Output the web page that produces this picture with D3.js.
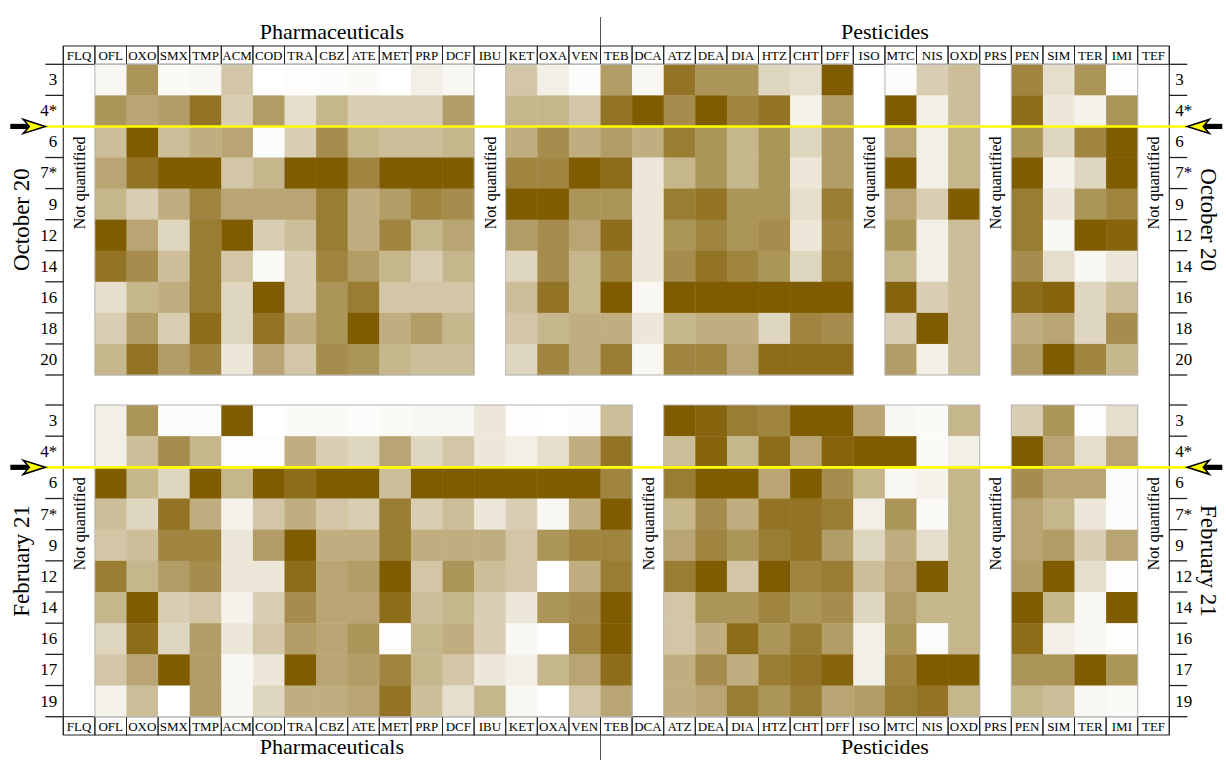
<!DOCTYPE html>
<html>
<head>
<meta charset="utf-8">
<script src="https://cdnjs.cloudflare.com/ajax/libs/d3/7.8.5/d3.min.js"></script>
<style>
body { margin: 0; background: #fff; }
text { font-family: "Liberation Serif", "DejaVu Serif", serif; fill: #000; }
</style>
</head>
<body>
<svg id="chart" width="1226" height="760"></svg>
<script>
// compounds in column order
var compounds = ['FLQ', 'OFL', 'OXO', 'SMX', 'TMP', 'ACM', 'COD', 'TRA', 'CBZ', 'ATE', 'MET', 'PRP', 'DCF',
    'IBU', 'KET', 'OXA', 'VEN', 'TEB', 'DCA', 'ATZ', 'DEA', 'DIA', 'HTZ', 'CHT', 'DFF', 'ISO', 'MTC', 'NIS',
    'OXD', 'PRS', 'PEN', 'SIM', 'TER', 'IMI', 'TEF'];
var groupNames = ['Pharmaceuticals', 'Pesticides'];
var groupFirst = ['FLQ', 'TEB'];
var groupLast = ['VEN', 'TEF'];

var campaigns = ['October 20', 'February 21'];
var octDays = ['3', '4*', '6', '7*', '9', '12', '14', '16', '18', '20'];
var febDays = ['3', '4*', '6', '7*', '9', '12', '14', '16', '17', '19'];
// rain event falls between these two samples
var eventAfter = ['4*', '4*'];

// relative level, 0 = white .. 10 = darkest, null = not quantified
var octValues = [
    [null, 0.5, 6.5, 0.3, 0.5, 3.5, 0, 0.1, 0.2, 0.3, 0, 1, 0.5, null, 3.5, 1, 0.2, 6, 0.5, 8.5, 6.5, 6.5, 2.5, 2, 10, null, 0.2, 3, 4, null, 7.5, 2, 6.5, 0.1, null],
    [null, 6.5, 5.5, 6, 8.5, 3, 6, 2, 4.5, 3, 3, 3, 6, null, 4.5, 4.5, 3.5, 8.5, 10, 7, 10, 7.5, 8.5, 0.8, 6, null, 10, 1, 4, null, 9, 1.5, 0.8, 6.5, null],
    [null, 4, 10, 4, 5, 5.5, 0.2, 3, 7, 4.5, 4, 4, 4.5, null, 5, 7, 5, 6, 5, 8, 6.5, 4.5, 6.5, 2.5, 6, null, 5.5, 1, 4.5, null, 6.5, 2.5, 7.5, 10, null],
    [null, 5.5, 8.5, 10, 10, 3.5, 4.5, 10, 10, 7.5, 10, 10, 10, null, 7.5, 7.5, 10, 9, 1.5, 4.5, 6.5, 4.5, 6.5, 1.5, 6, null, 10, 1, 4.5, null, 10, 0.8, 2.5, 10, null],
    [null, 4.5, 3, 5, 7.5, 5.5, 5.5, 5.5, 8, 5, 6, 7.5, 7, null, 10, 10, 6.5, 6.5, 1.5, 8, 8.5, 6.5, 6.5, 2, 8, null, 5.5, 3, 10, null, 8, 1.5, 6.5, 7.5, null],
    [null, 10, 5.5, 2.5, 8, 10, 3, 4, 8, 5, 7.5, 4.5, 5.5, null, 6, 7, 5.5, 9, 1.5, 6.5, 7.5, 6.5, 7, 1.5, 7.5, null, 6.5, 1, 4, null, 8, 0.5, 10, 9.5, null],
    [null, 8.5, 7, 4, 8, 3.5, 0.3, 3, 7.5, 6, 4.5, 3, 4.5, null, 2.5, 7, 4.5, 7.5, 1.5, 7, 8.5, 7.5, 6.5, 2.5, 8, null, 4.5, 1, 4, null, 7, 2, 0.5, 1.5, null],
    [null, 2, 4.5, 5, 8, 2.5, 10, 3, 6.5, 8, 3.5, 3.5, 3.5, null, 4, 8.5, 4.5, 10, 0.5, 10, 10, 10, 10, 10, 10, null, 9.5, 3, 4, null, 9, 9.5, 2.5, 4, null],
    [null, 3, 6, 3, 9, 2.5, 8.5, 5, 6.5, 10, 5, 6, 4.5, null, 3.5, 4.5, 5, 5, 1.5, 4.5, 5, 5, 2.5, 7.5, 7, null, 3, 10, 4, null, 5, 5.5, 2.5, 7, null],
    [null, 4.5, 8.5, 6, 7.5, 1.5, 5.5, 3.5, 7, 6.5, 4.5, 4, 4, null, 2.5, 7.5, 5, 8, 0.5, 7.5, 7.5, 5.5, 9, 9, 9, null, 6, 1, 4, null, 6, 10, 7.5, 4.5, null]
];
var febValues = [
    [null, 1, 6.5, 0.2, 0.2, 10, 0, 0.3, 0.3, 0.2, 0.3, 0.5, 0.5, 1.5, 0.1, 0, 0.2, 4, null, 10, 9.5, 8, 7.5, 10, 10, 5.5, 0.5, 0.3, 4.5, null, 3, 6.5, 0.1, 2, null],
    [null, 1, 4, 7, 4.5, 0.1, 0.1, 5, 3, 2.5, 5.5, 2.5, 3.5, 1.5, 1, 2, 5, 8.5, null, 4, 9.5, 4.5, 9, 5.5, 9.5, 10, 10, 0.3, 1, null, 10, 5.5, 2, 5.5, null],
    [null, 10, 4.5, 2.5, 10, 4.5, 10, 9, 10, 10, 4, 10, 10, 10, 10, 10, 10, 7.5, null, 8, 10, 10, 5.5, 10, 7, 4.5, 0.5, 0.8, 4.5, null, 7, 5.5, 5.5, 0.2, null],
    [null, 4, 2.5, 8.5, 5, 0.8, 3.5, 5, 3.5, 3, 8, 3, 4, 1.5, 3, 0.5, 5, 10, null, 4.5, 7, 5, 8.5, 8.5, 8, 1, 6.5, 0.3, 4.5, null, 5.5, 4.5, 1.5, 0.2, null],
    [null, 3.5, 4, 7.5, 7.5, 1.5, 6, 10, 5, 5, 8, 5, 5, 5, 3.5, 6.5, 7.5, 7.5, null, 5.5, 7.5, 6.5, 8, 8.5, 6, 2.5, 5, 2, 4.5, null, 5.5, 6, 3, 5.5, null],
    [null, 8, 4.5, 6, 7, 1.5, 1.5, 9, 5.5, 6, 10, 3.5, 6.5, 4, 3.5, 0, 5, 8, null, 8, 10, 3.5, 10, 7.5, 8, 4, 5.5, 10, 4.5, null, 6, 10, 2, 0.1, null],
    [null, 4.5, 10, 3, 3.5, 0.8, 3, 7, 5.5, 5.5, 9, 4, 4.5, 3, 1.5, 6.5, 7, 10, null, 3.5, 6.5, 6.5, 7.5, 6.5, 7, 2.5, 6, 4.5, 4.5, null, 10, 4.5, 0.5, 10, null],
    [null, 2.5, 9, 2.5, 6, 1.5, 3.5, 6, 5.5, 6.5, 0.1, 4.5, 5, 3, 0.5, 0, 7.5, 10, null, 3.5, 5, 9, 6.5, 8, 6, 1, 6.5, 0.2, 4.5, null, 9, 1, 0.5, 0.1, null],
    [null, 3.5, 5.5, 10, 6, 0.5, 1.5, 10, 5.5, 6, 7.5, 4.5, 3.5, 1.5, 1, 4.5, 5.5, 9, null, 5, 7, 5, 8, 8.5, 9.5, 1, 7.5, 10, 10, null, 6.5, 6.5, 10, 6.5, null],
    [null, 0.8, 4, 0, 6, 0.5, 2.5, 5, 5, 5.5, 8.5, 4, 2, 4.5, 0.5, 0, 3.5, 5.5, null, 5, 5.5, 8, 6.5, 8, 5.5, 6, 8, 8.5, 4.5, null, 4.5, 4, 0.5, 0.3, null]
];

var svg = d3.select('#chart');
var left = 63.3, right = 1169.3;

var x = d3.scaleBand().domain(compounds).range([left, right]);
var colour = d3.scaleLinear().domain([0, 10]).range(['#ffffff', '#805c00']);

// frame lines down both sides
svg.append('line').attr('x1', left).attr('x2', left).attr('y1', 46).attr('y2', 735)
    .attr('stroke', '#333').attr('stroke-width', 1.2);
svg.append('line').attr('x1', right).attr('x2', right).attr('y1', 46).attr('y2', 735)
    .attr('stroke', '#333').attr('stroke-width', 1.2);

// compound header boxes, top and bottom
function drawHeader(y0, y1) {
    var g = svg.append('g');
    g.selectAll('rect').data(compounds).enter().append('rect')
        .attr('x', function (d) { return x(d); })
        .attr('y', y0)
        .attr('width', x.bandwidth())
        .attr('height', y1 - y0)
        .attr('fill', 'none')
        .attr('stroke', '#222')
        .attr('stroke-width', 1);
    g.selectAll('text').data(compounds).enter().append('text')
        .attr('x', function (d) { return x(d) + x.bandwidth() / 2; })
        .attr('y', (y0 + y1) / 2)
        .attr('dy', '0.36em')
        .attr('text-anchor', 'middle')
        .style('font-size', '13px')
        .text(function (d) { return d; });
}
drawHeader(46, 64.3);
drawHeader(716.7, 735);

// group titles and the divider between them
function drawGroups(baseline, y0, y1) {
    groupNames.forEach(function (name, i) {
        var x0 = x(groupFirst[i]), x1 = x(groupLast[i]) + x.bandwidth();
        svg.append('text')
            .attr('x', (x0 + x1) / 2)
            .attr('y', baseline)
            .attr('text-anchor', 'middle')
            .style('font-size', '22px')
            .text(name);
    });
    svg.append('line')
        .attr('x1', x(groupFirst[1])).attr('x2', x(groupFirst[1]))
        .attr('y1', y0).attr('y2', y1)
        .attr('stroke', '#555').attr('stroke-width', 1);
}
drawGroups(39, 17, 46);
drawGroups(754, 735, 760);

function arrow(xTip, yy, dir) {
    // dir = 1 points right, -1 points left
    svg.append('rect')
        .attr('x', dir > 0 ? xTip - 35 : xTip + 17)
        .attr('y', yy - 2.6)
        .attr('width', 18)
        .attr('height', 5.2)
        .attr('fill', '#000');
    var pts = [[xTip, yy], [xTip - dir * 22, yy - 7], [xTip - dir * 16, yy], [xTip - dir * 22, yy + 7]];
    svg.append('polygon')
        .attr('points', pts.map(function (p) { return p.join(','); }).join(' '))
        .attr('fill', '#ffff00')
        .attr('stroke', '#000')
        .attr('stroke-width', 1.6)
        .attr('stroke-linejoin', 'miter');
}

function drawPanel(label, days, values, y0, y1, eventDay) {
    var y = d3.scaleBand().domain(days).range([y0, y1]);
    var g = svg.append('g');

    // cells
    values.forEach(function (row, i) {
        row.forEach(function (v, j) {
            if (v === null) return;
            g.append('rect')
                .attr('x', x(compounds[j]))
                .attr('y', y(days[i]))
                .attr('width', x.bandwidth() + 0.4)
                .attr('height', y.bandwidth() + 0.4)
                .attr('fill', colour(v));
        });
    });

    // grey outline around each run of quantified columns
    var quantified = compounds.map(function (c, j) {
        return values.some(function (row) { return row[j] !== null; });
    });
    var start = -1;
    quantified.concat([false]).forEach(function (q, j) {
        if (q && start < 0) start = j;
        if (!q && start >= 0) {
            g.append('rect')
                .attr('x', x(compounds[start]))
                .attr('y', y0)
                .attr('width', x(compounds[j - 1]) + x.bandwidth() - x(compounds[start]))
                .attr('height', y1 - y0)
                .attr('fill', 'none')
                .attr('stroke', '#b4b4b4')
                .attr('stroke-width', 1);
            start = -1;
        }
    });

    var yEvent = y(eventDay) + y.bandwidth();

    // "Not quantified" labels
    compounds.forEach(function (c, j) {
        if (quantified[j]) return;
        g.append('text')
            .attr('transform', 'translate(' + (x(c) + x.bandwidth() / 2) + ',' + (yEvent + 10) + ') rotate(-90)')
            .attr('text-anchor', 'end')
            .attr('dy', '0.35em')
            .style('font-size', '16px')
            .text('Not quantified');
    });

    // day labels both sides
    var axL = d3.axisLeft(y).tickSize(0).tickPadding(6);
    var axR = d3.axisRight(y).tickSize(0).tickPadding(6);
    var gl = svg.append('g').attr('transform', 'translate(' + left + ',0)').call(axL);
    var gr = svg.append('g').attr('transform', 'translate(' + right + ',0)').call(axR);
    [gl, gr].forEach(function (a) {
        a.select('.domain').remove();
        a.selectAll('text').style('font-size', '17px')
            .style('font-family', '"Liberation Serif", serif').attr('fill', '#000');
    });

    // boundary ticks, except where the event arrow sits
    var bounds = days.map(function (d) { return y(d); }).concat([y1]);
    bounds.forEach(function (b) {
        if (Math.abs(b - yEvent) < 1) return;
        svg.append('line').attr('x1', left - 18).attr('x2', left).attr('y1', b).attr('y2', b)
            .attr('stroke', '#222').attr('stroke-width', 1.3);
        svg.append('line').attr('x1', right).attr('x2', right + 18).attr('y1', b).attr('y2', b)
            .attr('stroke', '#222').attr('stroke-width', 1.3);
    });

    // campaign labels
    var yc = (y0 + y1) / 2;
    svg.append('text')
        .attr('transform', 'translate(21,' + yc + ') rotate(-90)')
        .attr('text-anchor', 'middle').attr('dy', '0.35em')
        .style('font-size', '23px').text(label);
    svg.append('text')
        .attr('transform', 'translate(1209,' + yc + ') rotate(90)')
        .attr('text-anchor', 'middle').attr('dy', '0.35em')
        .style('font-size', '23px').text(label);

    // event line
    svg.append('line')
        .attr('x1', left - 18).attr('x2', right + 18)
        .attr('y1', yEvent).attr('y2', yEvent)
        .attr('stroke', '#ffff00').attr('stroke-width', 2.6);
    arrow(left - 18, yEvent, 1);
    arrow(right + 18, yEvent, -1);
}

drawPanel(campaigns[0], octDays, octValues, 64.3, 375, eventAfter[0]);
drawPanel(campaigns[1], febDays, febValues, 405, 716.7, eventAfter[1]);
</script>
</body>
</html>
